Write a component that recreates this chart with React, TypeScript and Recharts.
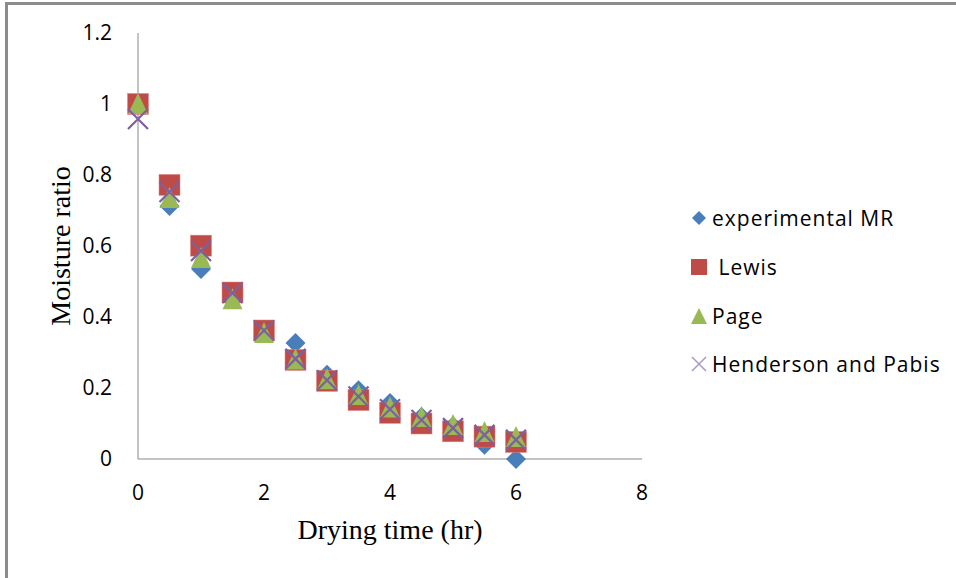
import { ScatterChart, Scatter, XAxis, YAxis } from 'recharts';

const dryingTime = [0, 0.5, 1, 1.5, 2, 2.5, 3, 3.5, 4, 4.5, 5, 5.5, 6];
const experimentalMR = [1.0, 0.713, 0.535, 0.46, 0.36, 0.327, 0.237, 0.194, 0.158, 0.118, 0.092, 0.04, 0];
const lewisMR = [1.0, 0.772, 0.601, 0.469, 0.362, 0.279, 0.22, 0.166, 0.13, 0.1, 0.078, 0.063, 0.048];
const pageMR = [1.0, 0.735, 0.566, 0.45, 0.355, 0.28, 0.225, 0.18, 0.145, 0.118, 0.096, 0.076, 0.062];
const hendersonMR = [0.958, 0.752, 0.586, 0.468, 0.362, 0.282, 0.222, 0.176, 0.14, 0.11, 0.087, 0.068, 0.054];

const xTicks = [0, 2, 4, 6, 8];
const yTicks = [0, 0.2, 0.4, 0.6, 0.8, 1, 1.2];

const toPoints = (values: number[]) => dryingTime.map((t, i) => ({ x: t, y: values[i] }));

const BLUE = '#4a7ebb';
const RED = '#be4b48';
const GREEN = '#98b954';
const PURPLE = '#7d60a0';

const Diamond = ({ cx, cy }: any) => (
  <path d={`M${cx},${cy - 10} L${cx + 10},${cy} L${cx},${cy + 10} L${cx - 10},${cy} Z`} fill={BLUE} />
);
const Square = ({ cx, cy }: any) => (
  <rect x={cx - 10.5} y={cy - 10.5} width={21} height={21} fill={RED} stroke="#d88" strokeWidth={0.5} />
);
const Triangle = ({ cx, cy }: any) => (
  <path d={`M${cx},${cy - 11} L${cx + 10},${cy + 10} L${cx - 10},${cy + 10} Z`} fill={GREEN} />
);
const Cross = ({ cx, cy }: any) => (
  <path d={`M${cx - 10},${cy - 10} L${cx + 10},${cy + 10} M${cx + 10},${cy - 10} L${cx - 10},${cy + 10}`} stroke={PURPLE} strokeWidth={2.2} />
);

const legendItems = [
  { label: 'experimental MR', color: BLUE, kind: 'diamond' },
  { label: ' Lewis', color: RED, kind: 'square' },
  { label: 'Page', color: GREEN, kind: 'triangle' },
  { label: 'Henderson and Pabis', color: PURPLE, kind: 'cross' },
];

const LegendMark = ({ kind, color }: { kind: string; color: string }) => (
  <svg width={18} height={18} style={{ marginRight: 4 }}>
    {kind === 'diamond' && <path d="M9,2 L16,9 L9,16 L2,9 Z" fill={color} />}
    {kind === 'square' && <rect x={1} y={1} width={16} height={16} fill={color} />}
    {kind === 'triangle' && <path d="M9,1 L17,17 L1,17 Z" fill={color} />}
    {kind === 'cross' && <path d="M2,2 L16,16 M16,2 L2,16" stroke="#a999c6" strokeWidth={1.5} />}
  </svg>
);

const tickStyle = { fill: '#000', fontSize: 21, fontFamily: 'Open Sans, sans-serif' };
const titleStyle = { fontFamily: 'Liberation Serif, serif', fontSize: 28, fill: '#000' };

export default function App() {
  return (
    <div style={{ position: 'relative', width: 956, height: 578, margin: -8, background: '#fff', overflow: 'hidden' }}>
      <ScatterChart width={956} height={578} margin={{ top: 33, right: 314, bottom: 89, left: 78 }}>
        <XAxis
          type="number"
          dataKey="x"
          domain={[0, 8]}
          ticks={xTicks}
          height={30}
          tickLine={false}
          tickSize={0}
          tickMargin={26}
          stroke="#888"
          tick={tickStyle}
          label={{ value: 'Drying time (hr)', position: 'bottom', offset: 30, style: titleStyle }}
        />
        <YAxis
          type="number"
          dataKey="y"
          domain={[0, 1.2]}
          ticks={yTicks}
          width={60}
          tickLine={false}
          tickSize={0}
          tickMargin={26}
          stroke="#888"
          tick={tickStyle}
          label={{ value: 'Moisture ratio', angle: -90, position: 'left', offset: 18, style: { ...titleStyle, textAnchor: 'middle' } }}
        />
        <Scatter name="experimental MR" data={toPoints(experimentalMR)} shape={Diamond} isAnimationActive={false} />
        <Scatter name="Lewis" data={toPoints(lewisMR)} shape={Square} isAnimationActive={false} />
        <Scatter name="Page" data={toPoints(pageMR)} shape={Triangle} isAnimationActive={false} />
        <Scatter name="Henderson and Pabis" data={toPoints(hendersonMR)} shape={Cross} isAnimationActive={false} />
      </ScatterChart>
      <div style={{ position: 'absolute', left: 690, top: 194, fontFamily: 'Open Sans, sans-serif', fontSize: 21, letterSpacing: 1, color: '#000' }}>
        {legendItems.map((item) => (
          <div key={item.label} style={{ display: 'flex', alignItems: 'center', height: 48.7, whiteSpace: 'pre' }}>
            <LegendMark kind={item.kind} color={item.color} />
            <span>{item.label}</span>
          </div>
        ))}
      </div>
      {/* frame of the pasted figure: top and left edges */}
      <div style={{ position: 'fixed', left: 5, top: 2, width: 951, height: 3, background: '#8c8c8c', zIndex: 10 }} />
      <div style={{ position: 'fixed', left: 5, top: 2, width: 3, height: 576, background: '#8c8c8c', zIndex: 10 }} />
    </div>
  );
}
